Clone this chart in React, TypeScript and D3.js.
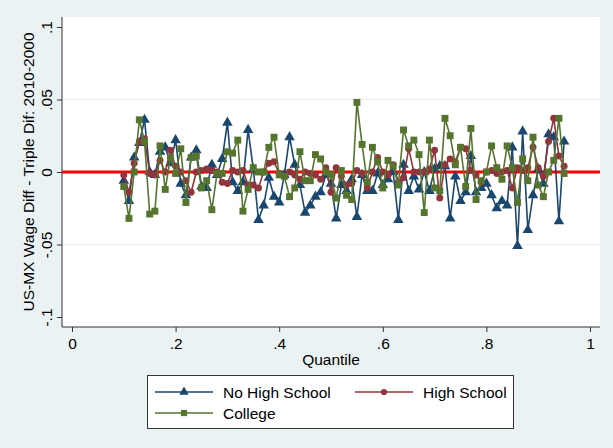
import React, { useEffect, useRef } from "react";
import * as d3 from "d3";

const quantiles = [
  0.10, 0.11, 0.12, 0.13, 0.14, 0.15, 0.16, 0.17, 0.18, 0.19,
  0.20, 0.21, 0.22, 0.23, 0.24, 0.25, 0.26, 0.27, 0.28, 0.29,
  0.30, 0.31, 0.32, 0.33, 0.34, 0.35, 0.36, 0.37, 0.38, 0.39,
  0.40, 0.41, 0.42, 0.43, 0.44, 0.45, 0.46, 0.47, 0.48, 0.49,
  0.50, 0.51, 0.52, 0.53, 0.54, 0.55, 0.56, 0.57, 0.58, 0.59,
  0.60, 0.61, 0.62, 0.63, 0.64, 0.65, 0.66, 0.67, 0.68, 0.69,
  0.70, 0.71, 0.72, 0.73, 0.74, 0.75, 0.76, 0.77, 0.78, 0.79,
  0.80, 0.81, 0.82, 0.83, 0.84, 0.85, 0.86, 0.87, 0.88, 0.89,
  0.90, 0.91, 0.92, 0.93, 0.94, 0.95,
];

const noHighSchool = [
  -0.006, -0.020, 0.010, 0.020, 0.036, 0.000, -0.002, 0.014, 0.017, 0.006,
  0.022, -0.008, -0.016, 0.010, 0.015, -0.010, -0.011, 0.005, -0.002, 0.009,
  0.034, -0.007, -0.013, -0.007, 0.029, 0.002, -0.033, -0.023, -0.004, -0.017,
  -0.021, -0.002, 0.024, 0.005, -0.009, -0.028, -0.023, -0.017, -0.014, -0.002,
  -0.008, -0.032, -0.009, -0.013, -0.005, -0.031, -0.002, -0.013, -0.013, -0.001,
  -0.009, -0.005, 0.000, -0.033, 0.005, -0.013, -0.003, -0.012, 0.000, -0.013,
  0.002, 0.004, 0.004, -0.032, -0.003, -0.020, -0.014, 0.011, -0.014, -0.011,
  -0.008, -0.016, -0.025, -0.020, -0.023, 0.017, -0.051, 0.028, -0.040, -0.016,
  0.002, -0.008, 0.026, 0.024, -0.034, 0.021,
];

const highSchool = [
  -0.002, -0.014, 0.006, 0.021, 0.023, -0.001, -0.002, 0.008, 0.000, 0.015,
  0.004, 0.000, -0.006, -0.014, 0.000, 0.001, 0.002, 0.001, 0.000, -0.007,
  -0.008, 0.001, 0.000, 0.001, -0.009, -0.009, -0.011, 0.000, 0.006, 0.007,
  -0.001, -0.003, 0.000, -0.002, -0.005, 0.000, -0.001, -0.002, -0.005, 0.003,
  -0.014, 0.003, -0.003, -0.009, -0.008, 0.001, -0.001, -0.011, 0.000, 0.010,
  0.000, -0.002, 0.005, -0.007, -0.004, 0.016, 0.000, 0.000, 0.000, 0.002,
  0.015, -0.018, 0.005, 0.009, 0.007, 0.017, 0.016, 0.001, -0.002, -0.007,
  0.000, 0.001, -0.001, 0.000, 0.001, -0.011, 0.003, 0.001, 0.003, 0.017,
  0.003, -0.003, 0.021, 0.037, 0.011, 0.004,
];

const college = [
  -0.010, -0.032, 0.000, 0.036, 0.021, -0.029, -0.027, 0.018, -0.012, 0.010,
  -0.001, 0.016, -0.021, 0.010, 0.011, -0.011, -0.006, -0.026, -0.001, -0.001,
  0.014, 0.013, 0.022, -0.027, -0.012, 0.003, 0.000, 0.000, 0.017, 0.024,
  -0.002, -0.003, -0.017, -0.011, 0.014, -0.006, -0.006, 0.012, 0.009, 0.000,
  -0.002, -0.018, 0.001, -0.016, -0.019, 0.048, 0.019, -0.007, 0.017, 0.007,
  -0.011, 0.008, 0.004, -0.009, 0.029, 0.018, 0.022, 0.012, -0.028, 0.022,
  -0.011, -0.013, 0.037, 0.025, 0.005, 0.017, -0.010, 0.030, -0.019, -0.006,
  0.000, 0.018, 0.003, -0.005, 0.018, 0.003, -0.021, 0.009, -0.006, 0.024,
  -0.009, -0.017, 0.000, 0.008, 0.037, -0.001,
];

const xTicks = [0, 0.2, 0.4, 0.6, 0.8, 1];
const xTickLabels = ["0", ".2", ".4", ".6", ".8", "1"];
const yTicks = [-0.1, -0.05, 0, 0.05, 0.1];
const yTickLabels = ["-.1", "-.05", "0", ".05", ".1"];

const seriesNames = ["No High School", "High School", "College"];
const seriesColors = ["#1A476F", "#90353B", "#55752F"];
const seriesShapes = [d3.symbolTriangle, d3.symbolCircle, d3.symbolSquare];
const seriesSizes = [48, 38, 48];

const W = 613;
const H = 448;
const FONT = "Liberation Sans, Arial, sans-serif";
const FS = 15.5;

const App = () => {
  const ref = useRef<SVGSVGElement>(null);

  useEffect(() => {
    const svg = d3.select(ref.current);
    svg.selectAll("*").remove();

    const left = 62, right = 600, top = 17, bottom = 327;

    const xScale = d3.scaleLinear().domain([0, 1]).range([72, 590]);
    const yScale = d3.scaleLinear().domain([-0.1, 0.1]).range([317, 27]);

    svg.append("rect").attr("width", W).attr("height", H).attr("fill", "#EAF2F3");
    svg.append("rect")
      .attr("x", left).attr("y", top)
      .attr("width", right - left).attr("height", bottom - top)
      .attr("fill", "#ffffff");

    // grid
    svg.append("g").selectAll("line")
      .data([-0.05, 0.05])
      .join("line")
      .attr("x1", left).attr("x2", right)
      .attr("y1", d => yScale(d)).attr("y2", d => yScale(d))
      .attr("stroke", "#E6EEF0").attr("stroke-width", 1);

    // y axis
    const yAxis = d3.axisLeft(yScale)
      .tickValues(yTicks)
      .tickSize(5)
      .tickFormat((d, i) => yTickLabels[i]);
    const yAxisG = svg.append("g")
      .attr("transform", `translate(${left},0)`)
      .call(yAxis);
    yAxisG.select(".domain").remove();
    yAxisG.selectAll(".tick line").attr("stroke", "#333");
    yAxisG.selectAll(".tick text")
      .attr("x", 0).attr("y", 0).attr("dy", 0)
      .attr("transform", "translate(-10,0) rotate(-90)")
      .attr("text-anchor", "middle")
      .attr("font-family", FONT).attr("font-size", FS).attr("fill", "#000");
    svg.append("line")
      .attr("x1", left).attr("x2", left).attr("y1", top).attr("y2", bottom)
      .attr("stroke", "#333").attr("stroke-width", 1);

    svg.append("text")
      .attr("transform", `translate(33.5,${yScale(0)}) rotate(-90)`)
      .attr("text-anchor", "middle")
      .attr("font-family", FONT).attr("font-size", FS)
      .text("US-MX Wage Diff - Triple Dif: 2010-2000");

    // x axis
    const xAxis = d3.axisBottom(xScale)
      .tickValues(xTicks)
      .tickSize(5)
      .tickPadding(6)
      .tickFormat((d, i) => xTickLabels[i]);
    const xAxisG = svg.append("g")
      .attr("transform", `translate(0,${bottom})`)
      .call(xAxis);
    xAxisG.select(".domain").remove();
    xAxisG.selectAll(".tick line").attr("stroke", "#333");
    xAxisG.selectAll(".tick text")
      .attr("font-family", FONT).attr("font-size", FS).attr("fill", "#000");
    svg.append("line")
      .attr("x1", left).attr("x2", right).attr("y1", bottom).attr("y2", bottom)
      .attr("stroke", "#333").attr("stroke-width", 1);

    svg.append("text")
      .attr("x", (left + right) / 2).attr("y", 365)
      .attr("text-anchor", "middle")
      .attr("font-family", FONT).attr("font-size", FS)
      .text("Quantile");

    // zero line
    svg.append("line")
      .attr("x1", left).attr("x2", right)
      .attr("y1", yScale(0)).attr("y2", yScale(0))
      .attr("stroke", "#FF0000").attr("stroke-width", 3);

    const allSeries = [noHighSchool, highSchool, college];
    const line = d3.line<number>()
      .x((d, i) => xScale(quantiles[i]))
      .y(d => yScale(d));

    allSeries.forEach((vals, s) => {
      const g = svg.append("g");
      g.append("path")
        .attr("d", line(vals))
        .attr("fill", "none")
        .attr("stroke", seriesColors[s])
        .attr("stroke-width", 1.6);
      g.selectAll("path.mark")
        .data(vals)
        .join("path")
        .attr("class", "mark")
        .attr("transform", (d, i) => `translate(${xScale(quantiles[i])},${yScale(d)})`)
        .attr("d", d3.symbol().type(seriesShapes[s]).size(seriesSizes[s])())
        .attr("fill", seriesColors[s]);
    });

    // legend
    const lg = svg.append("g");
    lg.append("rect")
      .attr("x", 147.5).attr("y", 375.5)
      .attr("width", 366).attr("height", 53)
      .attr("fill", "#fff").attr("stroke", "#333").attr("stroke-width", 1);
    const pos = [
      { x: 155, y: 392 },
      { x: 355, y: 392 },
      { x: 155, y: 413 },
    ];
    seriesNames.forEach((name, s) => {
      const p = pos[s];
      lg.append("line")
        .attr("x1", p.x).attr("x2", p.x + 58)
        .attr("y1", p.y).attr("y2", p.y)
        .attr("stroke", seriesColors[s]).attr("stroke-width", 1.4);
      lg.append("path")
        .attr("transform", `translate(${p.x + 29},${p.y})`)
        .attr("d", d3.symbol().type(seriesShapes[s]).size(seriesSizes[s] * 0.8)())
        .attr("fill", seriesColors[s]);
      lg.append("text")
        .attr("x", p.x + 68).attr("y", p.y + 5.5)
        .attr("font-family", FONT).attr("font-size", FS)
        .text(name);
    });
  }, []);

  return (
    <svg
      ref={ref}
      width={W}
      height={H}
      style={{ position: "fixed", left: 0, top: 0, display: "block" }}
    />
  );
};

export default App;
